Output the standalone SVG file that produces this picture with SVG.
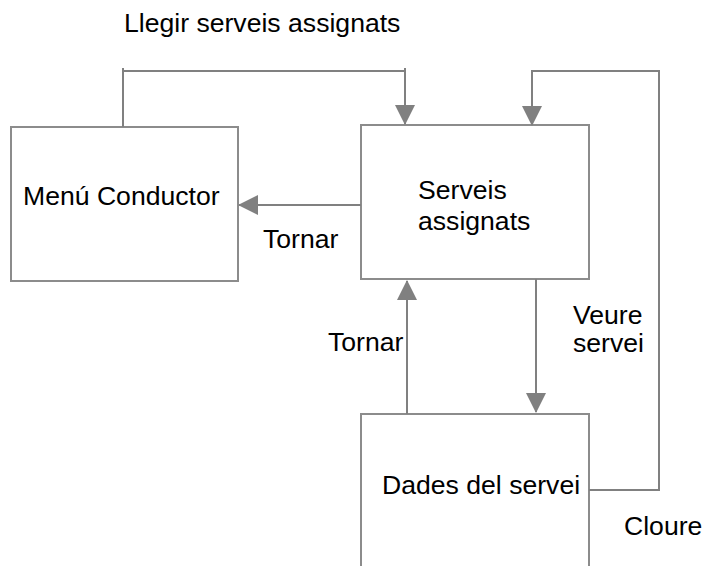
<svg xmlns="http://www.w3.org/2000/svg" width="705" height="566" viewBox="0 0 705 566">
<style>
.box{fill:#fff;stroke:#8c8c8c;stroke-width:2}
.con{fill:none;stroke:#808080;stroke-width:2}
text{font-family:"Liberation Sans",Arial,sans-serif;font-size:26.6px;fill:#000}
</style>
<defs>
<marker id="ah" markerUnits="userSpaceOnUse" viewBox="0 0 20 20" refX="19" refY="10" markerWidth="20" markerHeight="20" orient="auto">
<path d="M0,0 L20,10 L0,20 z" fill="#808080"/>
</marker>
</defs>
<rect width="705" height="566" fill="#fff"/>
<g id="menu-conductor">
<rect class="box" x="11" y="127" width="227" height="154"/>
<text x="23" y="205">Menú Conductor</text>
</g>
<g id="serveis-assignats">
<rect class="box" x="361" y="125" width="228" height="154"/>
<text x="418" y="199">Serveis</text>
<text x="418" y="230">assignats</text>
</g>
<g id="dades-servei">
<path class="box" d="M361,570 V414 H589 V570"/>
<text x="382" y="494">Dades del servei</text>
</g>
<g id="connectors">
<path class="con" d="M123,127 V68"/>
<path class="con" d="M123,71 H405"/>
<path class="con" d="M405,68 V124" marker-end="url(#ah)"/>
<path class="con" d="M589,490 H659 V71 H532 V125" marker-end="url(#ah)"/>
<path class="con" d="M361,205 H239" marker-end="url(#ah)"/>
<path class="con" d="M407,414 V281" marker-end="url(#ah)"/>
<path class="con" d="M536,279 V412" marker-end="url(#ah)"/>
</g>
<g id="labels">
<text x="124" y="32">Llegir serveis assignats</text>
<text x="263" y="248">Tornar</text>
<text x="328" y="351">Tornar</text>
<text x="573" y="324">Veure</text>
<text x="573" y="352">servei</text>
<text x="624" y="535">Cloure</text>
</g>
</svg>
